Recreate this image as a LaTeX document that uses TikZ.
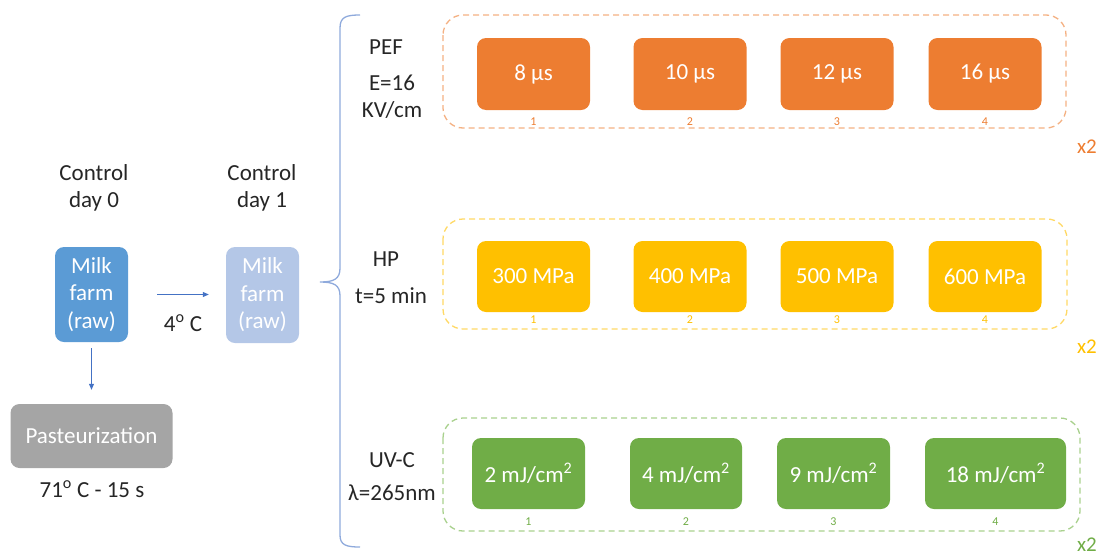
\documentclass[tikz,border=0pt]{standalone}
\usepackage{fontspec}
\setmainfont{Carlito}
\usetikzlibrary{arrows.meta}
\definecolor{cOrange}{HTML}{ED7D31}
\definecolor{cYellow}{HTML}{FFC000}
\definecolor{cGreen}{HTML}{70AD47}
\definecolor{cBlue}{HTML}{5B9BD5}
\definecolor{cLBlue}{HTML}{B4C7E7}
\definecolor{cGray}{HTML}{A5A5A5}
\definecolor{dOrange}{HTML}{F4B183}
\definecolor{dYellow}{HTML}{FFD966}
\definecolor{dGreen}{HTML}{A9D18E}
\definecolor{cBrace}{HTML}{8FAADC}
\definecolor{cArrow}{HTML}{4472C4}
\definecolor{cText}{HTML}{262626}
\tikzset{
  tbox/.style={rounded corners=9pt, text=white, inner sep=0pt, align=center,
    font=\fontsize{23}{27.5}\selectfont},
  grp/.style={draw, dashed, dash pattern=on 6pt off 4pt, line width=1.3pt, rounded corners=20pt},
  lbl/.style={text=cText, align=center, font=\fontsize{23}{28}\selectfont, inner sep=0pt},
  num/.style={font=\fontsize{12}{14}\selectfont, inner sep=0pt},
  xtwo/.style={font=\fontsize{21}{24}\selectfont, inner sep=0pt},
  arr/.style={draw=cArrow, line width=0.8pt, -{Triangle[length=6pt,width=5pt]}},
}
\begin{document}
\begin{tikzpicture}[x=1pt,y=-1pt]
\useasboundingbox (0,0) rectangle (1099,557);

% left part
\node[lbl] (c0a) at (94,173) {Control};
\node[lbl] (c0b) at (94,201) {day 0};
\node[lbl] (c1a) at (262,173) {Control};
\node[lbl] (c1b) at (262,201) {day 1};
\node[tbox, fill=cBlue, minimum width=73pt, minimum height=95pt] (m0) at (91.5,294.5) {Milk\\farm\\(raw)};
\node[tbox, fill=cLBlue, minimum width=73pt, minimum height=96pt] (m1) at (262.5,295) {Milk\\farm\\(raw)};
\node[tbox, fill=cGray, minimum width=162pt, minimum height=64pt] (past) at (91.5,436) {Pasteurization};
\node[lbl] (t4) at (183,323) {4\textsuperscript{o} C};
\node[lbl] (t71) at (92,489) {71\textsuperscript{o} C - 15 s};
\draw[arr, shorten <=29pt, shorten >=17pt] (m0.east) -- (m0.east -| m1.west);
\draw[arr, shorten <=6pt, shorten >=14pt] (m0.south) -- (m0.south |- past.north);

% brace
\coordinate (btop) at (360,15);
\coordinate (btip) at (320,282);
\coordinate (bbot) at (360,547);
\draw[cBrace, line width=1.3pt] (btop) .. controls (346,15) and (340,17) .. (340,28)
  -- (340,268) .. controls (340,279) and (334,282) .. (btip)
  .. controls (334,282) and (340,285) .. (340,296)
  -- (340,535) .. controls (340,545) and (346,547) .. (bbot);

% PEF
\node[lbl] (pefa) at (386,47) {PEF};
\node[lbl] (pefb) at (392,83) {E=16};
\node[lbl] (pefc) at (392,110) {KV/cm};
\draw[grp, draw=dOrange] (443,15) rectangle (1066,128);
\foreach \i/\x/\t in {1/533.5/8 µs, 2/690/10 µs, 3/837/12 µs, 4/985/16 µs}{
  \node[tbox, fill=cOrange, minimum width=113pt, minimum height=72pt] (pef\i) at (\x,74) {\t};
  \node[num, text=cOrange] (pefn\i) at (\x,122) {\i};
}
\node[xtwo, text=cOrange] (x2a) at (1087,147) {x2};

% HP
\node[lbl] (hpa) at (386,259) {HP};
\node[lbl] (hpb) at (391,296) {t=5 min};
\draw[grp, draw=dYellow] (443,219) rectangle (1067,329);
\foreach \i/\x/\t in {1/533.5/300 MPa, 2/690/400 MPa, 3/837/500 MPa, 4/985/600 MPa}{
  \node[tbox, fill=cYellow, minimum width=113pt, minimum height=71pt] (hp\i) at (\x,276.5) {\t};
  \node[num, text=cYellow] (hpn\i) at (\x,320) {\i};
}
\node[xtwo, text=cYellow] (x2b) at (1087,347) {x2};

% UV-C
\node[lbl] (uva) at (392,460) {UV-C};
\node[lbl] (uvb) at (392,493) {λ=265nm};
\draw[grp, draw=dGreen] (443,418) rectangle (1080,531);
\foreach \i/\x/\w/\t in {1/528.5/113/2, 2/686/112/4, 3/833.5/113/9, 4/995.5/141/18}{
  \node[tbox, fill=cGreen, minimum width=\w pt, minimum height=71pt] (uv\i) at (\x,473.5) {\t{} mJ/cm\textsuperscript{2}};
  \node[num, text=cGreen] (uvn\i) at (\x,522) {\i};
}
\node[xtwo, text=cGreen] (x2c) at (1087,545) {x2};
\end{tikzpicture}
\end{document}
